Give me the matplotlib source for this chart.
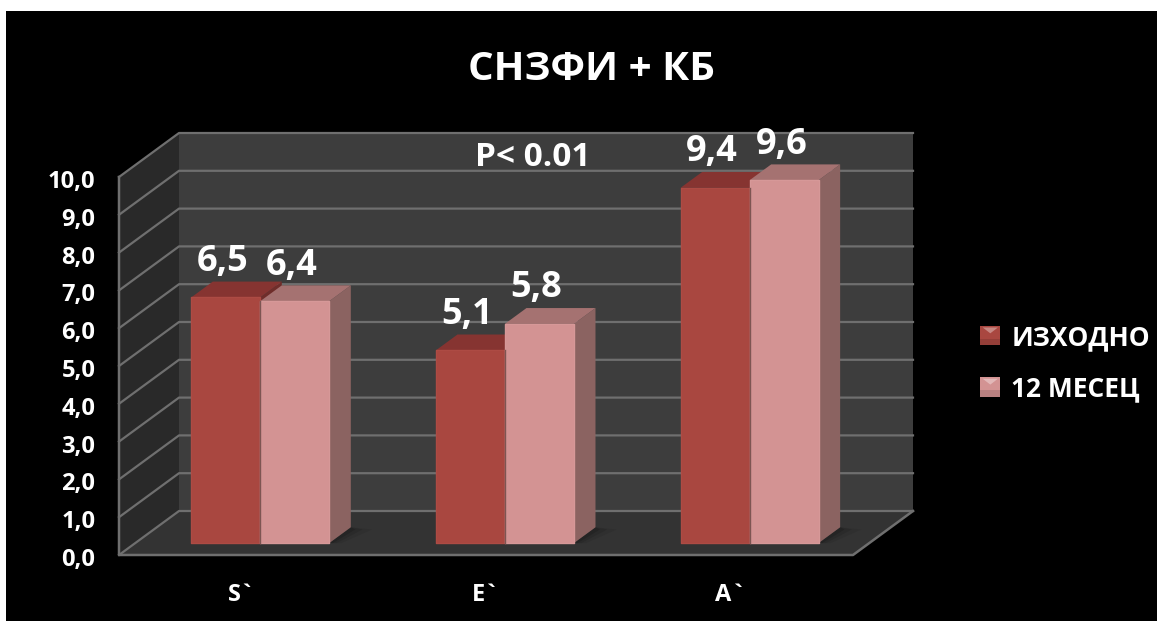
#!/usr/bin/env python3
import matplotlib
matplotlib.use("Agg")
import matplotlib.pyplot as plt
from matplotlib.legend_handler import HandlerPatch
from matplotlib.patches import Patch, Polygon, Rectangle
from matplotlib.transforms import ScaledTranslation

plt.rcParams['font.family'] = ['Open Sans', 'DejaVu Sans']
plt.rcParams['font.weight'] = 'bold'

W, H = 1157, 621

CATEGORIES = ["S`", "E`", "A`"]
BASELINE = [6.5, 5.1, 9.4]
MONTH_12 = [6.4, 5.8, 9.6]
SERIES_NAMES = ["ИЗХОДНО", "12 МЕСЕЦ"]
YTICKS = [0, 1, 2, 3, 4, 5, 6, 7, 8, 9, 10]

# front plane of the box, in pixels
LEFT, RIGHT, BOTTOM, TOP = 119, 853, 555, 177
# offset of the back wall from the front plane, in pixels
DEPTH_X, DEPTH_Y = 60, 44
# where the bars sit between front plane (0) and back wall (1)
BAR_D0, BAR_D1 = 0.27, 0.63
BAR_W = 0.282
BAR_SHIFT = 0.011

DARK = {"front": "#a94740", "edge": "#ad4b44", "side": "#6f2d2a", "top": "#863431"}
LIGHT = {"front": "#d39393", "edge": "#d69898", "side": "#8b6361", "top": "#a57271"}

fig = plt.figure(figsize=(W / 100, H / 100), dpi=100, facecolor="white")
fig.patches.append(Rectangle((6 / W, 0), 1 - 6 / W, 1 - 11 / H, transform=fig.transFigure,
                             facecolor="black", edgecolor="none", zorder=-1))

ax = fig.add_axes([LEFT / W, 1 - BOTTOM / H, (RIGHT - LEFT) / W, (BOTTOM - TOP) / H])
ax.patch.set_alpha(0)
ax.set_xlim(-0.5, 2.5)
ax.set_ylim(0, 10)
for s in ax.spines.values():
    s.set_visible(False)

ux = (RIGHT - LEFT) / 3.0    # pixels per category
uy = (BOTTOM - TOP) / 10.0   # pixels per value unit
dx = DEPTH_X / ux
dy = DEPTH_Y / uy


def pt(x, y, d=0.0):
    return (x + d * dx, y + d * dy)


def poly(points, color, z, **kw):
    ax.add_patch(Polygon(points, closed=True, facecolor=color, edgecolor="none",
                         clip_on=False, zorder=z, **kw))


# walls and floor
x0, x1 = ax.get_xlim()
poly([pt(x0, 0, 1), pt(x1, 0, 1), pt(x1, 10, 1), pt(x0, 10, 1)], "#3d3d3d", 1)
poly([pt(x0, 0), pt(x0, 0, 1), pt(x0, 10, 1), pt(x0, 10)], "#292929", 1)
poly([pt(x0, 0), pt(x1, 0), pt(x1, 0, 1), pt(x0, 0, 1)], "#333333", 1)

GRID = "#6f6f6f"
for v in YTICKS:
    xs = [pt(x0, v)[0], pt(x0, v, 1)[0], pt(x1, v, 1)[0]]
    ys = [pt(x0, v)[1], pt(x0, v, 1)[1], pt(x1, v, 1)[1]]
    ax.plot(xs, ys, color=GRID, lw=1.6, clip_on=False, zorder=2)
ax.plot([x0, x0, x1, x1 + dx], [10, 0, 0, dy], color=GRID, lw=1.8, clip_on=False, zorder=2)


def draw_bar(xl, value, c):
    xr = xl + BAR_W
    # soft shadow falling on the floor
    for grow, a in [(0.05, 0.07), (0.03, 0.1), (0.015, 0.14)]:
        poly([pt(xr, 0, BAR_D0), pt(xr, 0, BAR_D1), pt(xr + grow * 2, 0, BAR_D1 - 0.05),
              pt(xr + grow, 0, BAR_D0)], "black", 3, alpha=a)
    poly([pt(xr, 0, BAR_D0), pt(xr, 0, BAR_D1), pt(xr, value, BAR_D1), pt(xr, value, BAR_D0)],
         c["side"], 4)
    poly([pt(xl, value, BAR_D0), pt(xr, value, BAR_D0), pt(xr, value, BAR_D1), pt(xl, value, BAR_D1)],
         c["top"], 4)
    ax.add_patch(Polygon([pt(xl, 0, BAR_D0), pt(xr, 0, BAR_D0), pt(xr, value, BAR_D0), pt(xl, value, BAR_D0)],
                         closed=True, facecolor=c["front"], edgecolor=c["edge"], lw=1,
                         joinstyle="round", clip_on=False, zorder=4))


def draw_label(xl, value):
    cx, cy = pt(xl + BAR_W / 2, value, BAR_D0)
    ax.annotate(f"{value:.1f}".replace(".", ","), (cx, cy), xytext=(-2, 25.5), textcoords="offset points",
                ha="center", va="center", color="white", fontsize=26, annotation_clip=False, zorder=6)


for i in range(len(CATEGORIES)):
    xl = i - BAR_W + BAR_SHIFT
    draw_bar(xl, BASELINE[i], DARK)
    draw_bar(xl + BAR_W, MONTH_12[i], LIGHT)
    # darker seam between the two bars of a group
    seam = pt(xl + BAR_W, 0, BAR_D0)[0]
    top = min(BASELINE[i], MONTH_12[i])
    ax.plot([seam, seam], [pt(0, 0, BAR_D0)[1], pt(0, top, BAR_D0)[1]], color="#7d5552", lw=1,
            clip_on=False, zorder=5)
    draw_label(xl, BASELINE[i])
    draw_label(xl + BAR_W, MONTH_12[i])

# axis labels
ax.set_xticks(range(len(CATEGORIES)))
ax.set_xticklabels(CATEGORIES, color="white", fontsize=17)
ax.set_yticks(YTICKS)
ax.set_yticklabels([f"{v:.1f}".replace(".", ",") for v in YTICKS], color="white", fontsize=17)
ax.tick_params(axis="x", length=0, pad=20)
ax.tick_params(axis="y", length=0, pad=17)
for lab in ax.get_yticklabels():
    lab.set_transform(lab.get_transform() + ScaledTranslation(0, -2 / 100, fig.dpi_scale_trans))

fig.text(591 / W, 1 - 69 / H, "СНЗФИ + КБ", color="white", fontsize=29, ha="center", va="center")
fig.text(533 / W, 1 - 158 / H, "P< 0.01", color="white", fontsize=24, ha="center", va="center")


class BevelHandler(HandlerPatch):
    # legend swatch with a small bevelled highlight on top
    def create_artists(self, legend, orig, xd, yd, width, height, fontsize, trans):
        x, y = -xd, -yd
        base = Rectangle((x, y), width, height, facecolor=orig.get_facecolor(), edgecolor="none", transform=trans)
        mid = (x + width / 2, y + height * 0.62)
        tl, tr = (x + width * 0.12, y + height * 0.92), (x + width * 0.88, y + height * 0.92)
        hi = Polygon([tl, tr, mid], closed=True, facecolor="#ffffff", alpha=0.35, edgecolor="none", transform=trans)
        lo = Rectangle((x, y), width, height * 0.35, facecolor="#000000", alpha=0.12, edgecolor="none",
                       transform=trans)
        return [base, hi, lo]


handles = [Patch(facecolor=DARK["front"]), Patch(facecolor=LIGHT["front"])]
leg = fig.legend(handles, SERIES_NAMES, loc="center left", bbox_to_anchor=(975 / W, 1 - 363 / H), frameon=False,
                 fontsize=19, labelcolor="white", handlelength=0.76, handleheight=0.76, handletextpad=0.42,
                 labelspacing=0.92, borderpad=0.2, borderaxespad=0,
                 handler_map={Patch: BevelHandler()})

fig.savefig("out.png", dpi=100, facecolor=fig.get_facecolor())
